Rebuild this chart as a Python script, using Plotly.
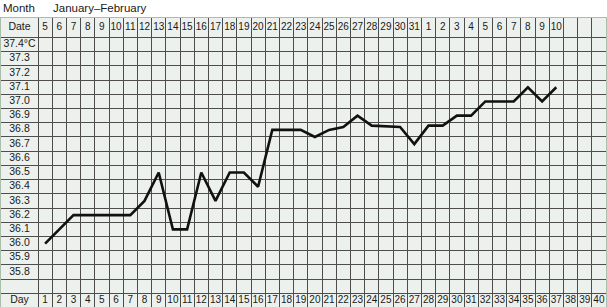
import plotly.graph_objects as go

# ---- data ----
days = list(range(1, 41))
date_labels = [str(d) for d in range(5, 32)] + [str(d) for d in range(1, 11)] + ["", "", ""]
temp_rows = [37.4, 37.3, 37.2, 37.1, 37.0, 36.9, 36.8, 36.7, 36.6, 36.5,
             36.4, 36.3, 36.2, 36.1, 36.0, 35.9, 35.8]
temp_labels = ["37.4°C"] + [f"{v:.1f}" for v in temp_rows[1:]]
chart_days = list(range(1, 38))
temps = [36.0, 36.1, 36.2, 36.2, 36.2, 36.2, 36.2, 36.3, 36.5, 36.1,
         36.1, 36.5, 36.3, 36.5, 36.5, 36.4, 36.8, 36.8, 36.8, 36.75,
         36.8, 36.82, 36.9, 36.83, 36.825, 36.82, 36.7, 36.83, 36.83, 36.9,
         36.9, 37.0, 37.0, 37.0, 37.1, 37.0, 37.1]
month_title = "Month"
month_value = "January–February"

# ---- layout geometry ----
W, H = 607, 307
ML, MR, MT, MB = 1, 1, 18, 0
col_px = 14.2
row_px = 142.1  # pixels per degree
x0 = 0.5 - 37 / col_px
x1 = 40.5
y_bot = 37.45 - (307 - 37.5) / row_px
y_top = 37.45 + (37.5 - 18) / row_px

blank_row = 35.7
day_row = 35.6
date_row = (37.45 + y_top) / 2
label_x = (x0 + 0.5) / 2

row_centers = temp_rows + [blank_row, day_row]
h_lines = [round(c + 0.05, 3) for c in row_centers]
v_lines = [0.5] + [d + 0.5 for d in days[:-1]]

txt_font = dict(family="Liberation Sans, Arial, sans-serif", size=10, color="#1a1a1a")

fig = go.Figure()

# row labels
fig.add_trace(go.Scatter(
    x=[label_x] * (len(temp_rows) + 2),
    y=[date_row] + temp_rows + [day_row],
    text=["Date"] + temp_labels + ["Day"],
    mode="text", textfont=dict(txt_font, size=10.5), hoverinfo="skip", showlegend=False))

# date row
fig.add_trace(go.Scatter(
    x=days, y=[date_row] * len(days), text=date_labels,
    mode="text", textfont=txt_font, hoverinfo="skip", showlegend=False))

# day row
fig.add_trace(go.Scatter(
    x=days, y=[day_row] * len(days), text=[str(d) for d in days],
    mode="text", textfont=txt_font, hoverinfo="skip", showlegend=False))

# temperature curve
fig.add_trace(go.Scatter(
    x=chart_days, y=temps, mode="lines",
    line=dict(color="#111111", width=2.6), hoverinfo="skip", showlegend=False))

grid_color = "#4d4d4d"
border_color = "#a9bda9"

fig.update_xaxes(
    range=[x0, x1], tickmode="array", tickvals=v_lines, showticklabels=False, ticks="",
    showgrid=True, gridcolor=grid_color, gridwidth=1.4, zeroline=False,
    showline=True, linecolor=border_color, linewidth=1, mirror=True, fixedrange=True)
fig.update_yaxes(
    range=[y_bot, y_top], tickmode="array", tickvals=h_lines, showticklabels=False, ticks="",
    showgrid=True, gridcolor=grid_color, gridwidth=1.4, zeroline=False,
    showline=True, linecolor=border_color, linewidth=1, mirror=True, fixedrange=True)

title_font = dict(family="Liberation Sans, Arial, sans-serif", size=11.5, color="#1a1a1a")
ty = 1 + (MT - 8) / (H - MT - MB)
fig.add_annotation(text=month_title, xref="paper", yref="paper", x=0.0, y=ty,
                   xanchor="left", yanchor="middle", showarrow=False, font=title_font)
fig.add_annotation(text=month_value, xref="x", yref="paper", x=1.42, y=ty,
                   xanchor="left", yanchor="middle", showarrow=False, font=title_font)

fig.update_layout(
    width=W, height=H, margin=dict(l=ML, r=MR, t=MT, b=MB, pad=0),
    paper_bgcolor="white", plot_bgcolor="#edf1ed", showlegend=False)

fig.write_html("out.html", config={"displayModeBar": False})
